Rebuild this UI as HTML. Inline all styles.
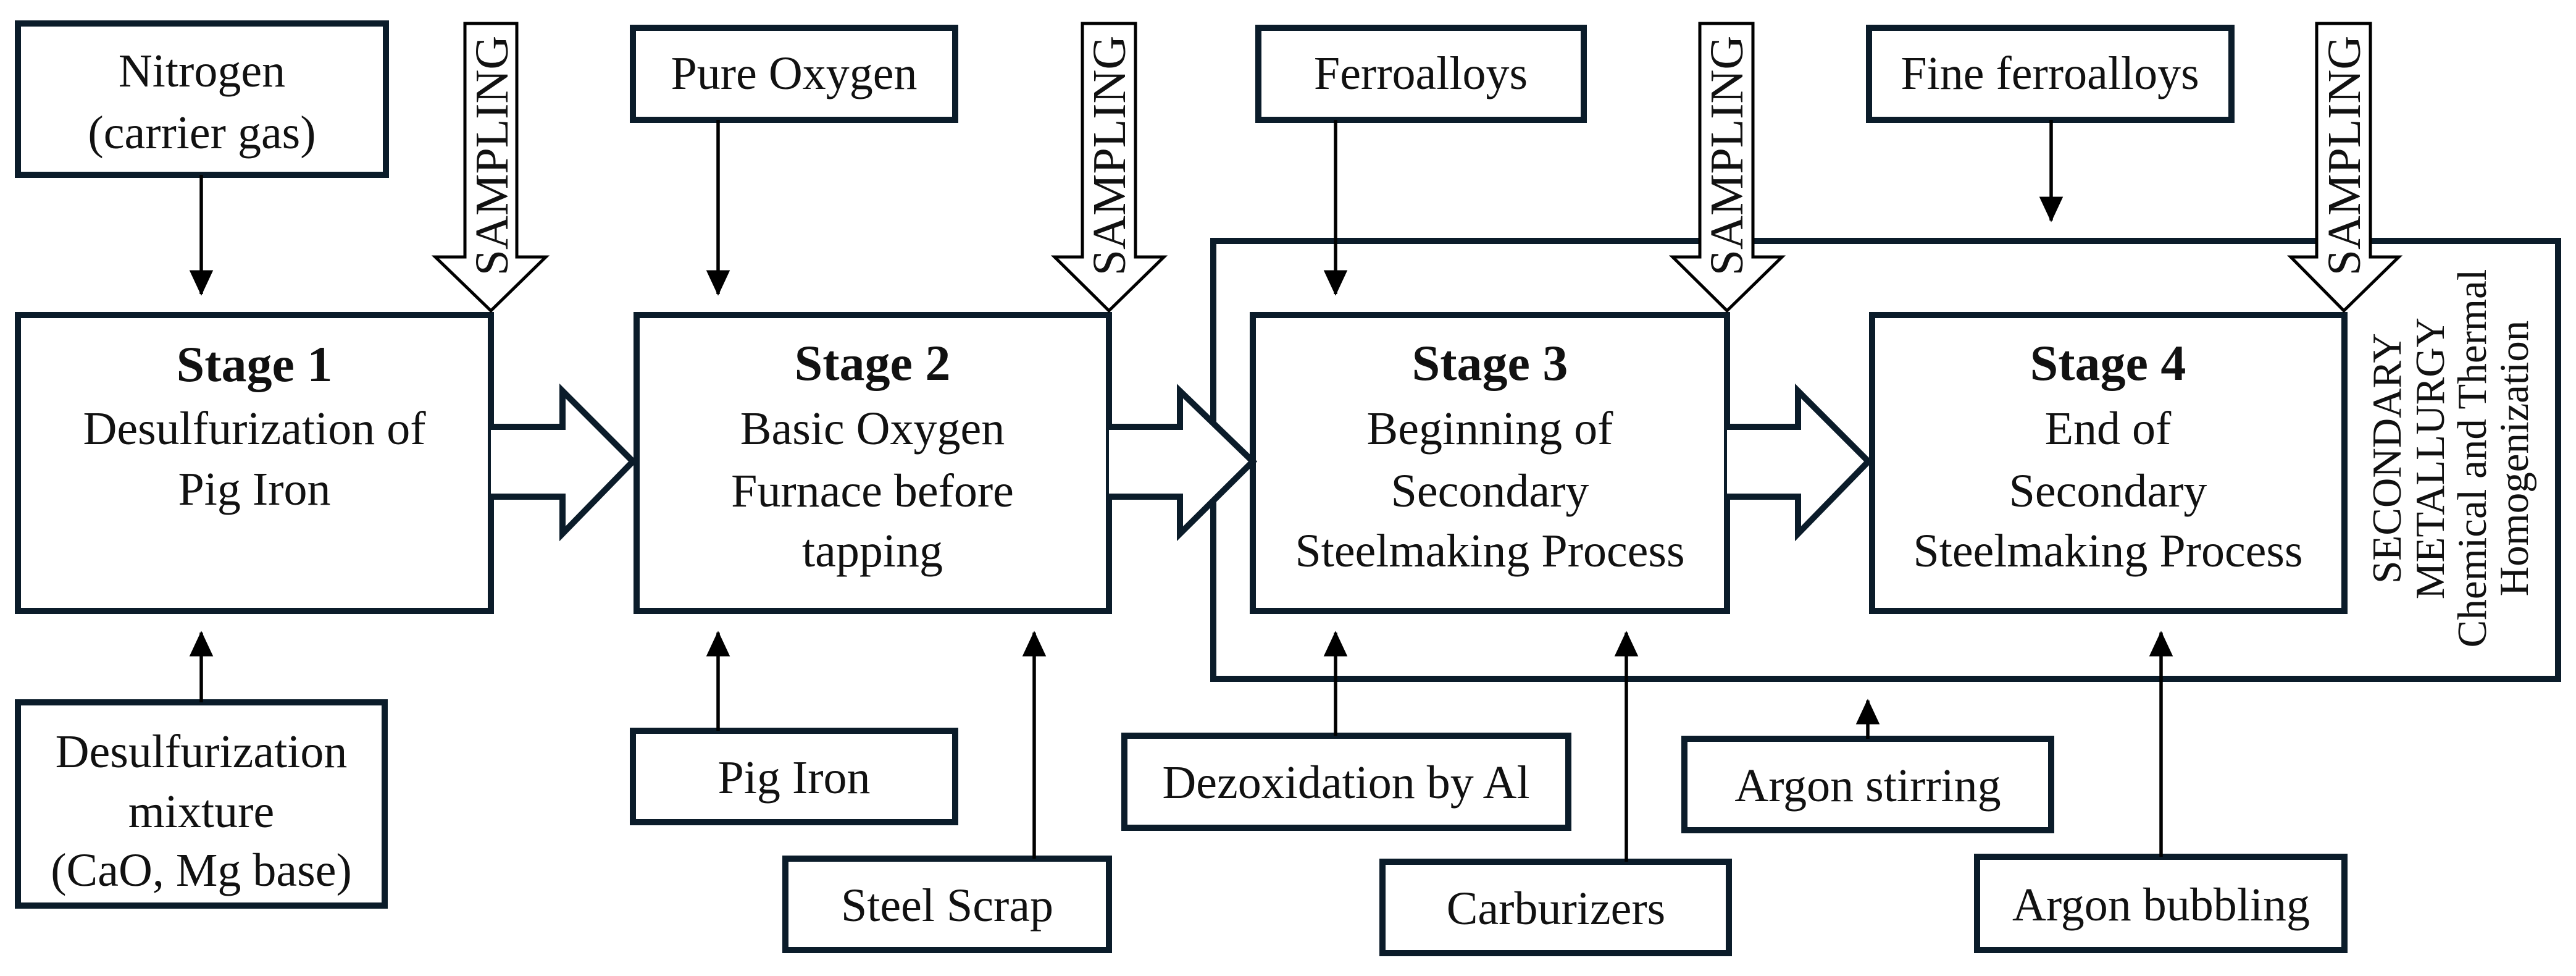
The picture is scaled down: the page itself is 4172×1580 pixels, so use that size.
<!DOCTYPE html>
<html><head><meta charset="utf-8"><style>
html,body{margin:0;padding:0;background:#fff;}
svg{display:block;}
text{font-family:"Liberation Serif",serif;fill:#111;}
</style></head><body>
<svg width="4172" height="1580" viewBox="0 0 4172 1580" xmlns="http://www.w3.org/2000/svg">
<defs>
<marker id="ah" markerWidth="8" markerHeight="8" refX="7" refY="4" orient="auto" markerUnits="strokeWidth">
<path d="M0,0.5 L7.5,4 L0,7.5 Z" fill="#000"/>
</marker>
</defs>
<g fill="none" stroke="#0b1c2a" stroke-width="10">
<rect x="1965" y="390" width="2178" height="709"/>
<rect x="29" y="38" width="596" height="245"/>
<rect x="1025" y="45" width="522" height="149"/>
<rect x="2038" y="45" width="527" height="149"/>
<rect x="3027" y="45" width="587" height="149"/>
<rect x="29" y="510" width="766" height="479" fill="#fff"/>
<rect x="1031" y="510" width="765" height="479" fill="#fff"/>
<rect x="2029" y="510" width="768" height="479" fill="#fff"/>
<rect x="3032" y="510" width="765" height="479" fill="#fff"/>
<rect x="29" y="1137" width="594" height="329"/>
<rect x="1025" y="1183" width="522" height="148"/>
<rect x="1272" y="1390" width="524" height="148"/>
<rect x="1821" y="1191" width="719" height="149"/>
<rect x="2239" y="1395" width="561" height="148"/>
<rect x="2728" y="1196" width="594" height="148"/>
<rect x="3202" y="1387" width="595" height="151"/>
<path d="M795,691 H911 V633 L1025,747 L911,864 V804 H795" fill="#fff"/>
<path d="M1796,691 H1911 V633 L2029,747 L1911,864 V804 H1796" fill="#fff"/>
<path d="M2797,691 H2912 V633 L3026,747 L2912,864 V804 H2797" fill="#fff"/>
</g>
<g fill="#fff" stroke="#000" stroke-width="5">
<path d="M753,38 H837 V416 H884 L795,503 L705,416 H753 Z"/>
<path d="M1753,38 H1839 V416 H1885 L1796,503 L1708,416 H1753 Z"/>
<path d="M2753,38 H2839 V416 H2886 L2797,503 L2709,416 H2753 Z"/>
<path d="M3752,38 H3839 V416 H3885 L3796,503 L3710,416 H3752 Z"/>
</g>
<g font-size="76">
<text transform="translate(822,252) rotate(-90)" text-anchor="middle">SAMPLING</text>
<text transform="translate(1822,252) rotate(-90)" text-anchor="middle">SAMPLING</text>
<text transform="translate(2822,252) rotate(-90)" text-anchor="middle">SAMPLING</text>
<text transform="translate(3822,252) rotate(-90)" text-anchor="middle">SAMPLING</text>
</g>
<g stroke="#000" stroke-width="5.5" marker-end="url(#ah)">
<line x1="326" y1="283" x2="326" y2="476"/>
<line x1="1163" y1="194" x2="1163" y2="476"/>
<line x1="2163" y1="194" x2="2163" y2="476"/>
<line x1="3322" y1="194" x2="3322" y2="357"/>
<line x1="326" y1="1137" x2="326" y2="1024"/>
<line x1="1163" y1="1183" x2="1163" y2="1024"/>
<line x1="1675" y1="1390" x2="1675" y2="1024"/>
<line x1="2163" y1="1191" x2="2163" y2="1024"/>
<line x1="2634" y1="1395" x2="2634" y2="1024"/>
<line x1="3025" y1="1196" x2="3025" y2="1134"/>
<line x1="3500" y1="1387" x2="3500" y2="1024"/>
</g>
<g font-size="76" text-anchor="middle">
<text x="327" y="140">Nitrogen</text>
<text x="327" y="240">(carrier gas)</text>
<text x="1286" y="144">Pure Oxygen</text>
<text x="2301" y="144">Ferroalloys</text>
<text x="3320" y="144">Fine ferroalloys</text>

<text x="412" y="617" font-weight="bold" font-size="82">Stage 1</text>
<text x="412" y="719">Desulfurization of</text>
<text x="412" y="817">Pig Iron</text>

<text x="1413" y="615" font-weight="bold" font-size="82">Stage 2</text>
<text x="1413" y="719">Basic Oxygen</text>
<text x="1413" y="820">Furnace before</text>
<text x="1413" y="917">tapping</text>

<text x="2413" y="615" font-weight="bold" font-size="82">Stage 3</text>
<text x="2413" y="719">Beginning of</text>
<text x="2413" y="820">Secondary</text>
<text x="2413" y="917">Steelmaking Process</text>

<text x="3414" y="615" font-weight="bold" font-size="82">Stage 4</text>
<text x="3414" y="719">End of</text>
<text x="3414" y="820">Secondary</text>
<text x="3414" y="917">Steelmaking Process</text>

<text x="326" y="1242">Desulfurization</text>
<text x="326" y="1339">mixture</text>
<text x="326" y="1434">(CaO, Mg base)</text>
<text x="1286" y="1284">Pig Iron</text>
<text x="1534" y="1491">Steel Scrap</text>
<text x="2180" y="1292">Dezoxidation by Al</text>
<text x="2520" y="1496">Carburizers</text>
<text x="3025" y="1297">Argon stirring</text>
<text x="3500" y="1490">Argon bubbling</text>
</g>
<g font-size="67" text-anchor="middle">
<text transform="translate(3888,742) rotate(-90)">SECONDARY</text>
<text transform="translate(3958,742) rotate(-90)">METALLURGY</text>
<text transform="translate(4026,742) rotate(-90)">Chemical and Thermal</text>
<text transform="translate(4094,742) rotate(-90)">Homogenization</text>
</g>
</svg>
</body></html>
